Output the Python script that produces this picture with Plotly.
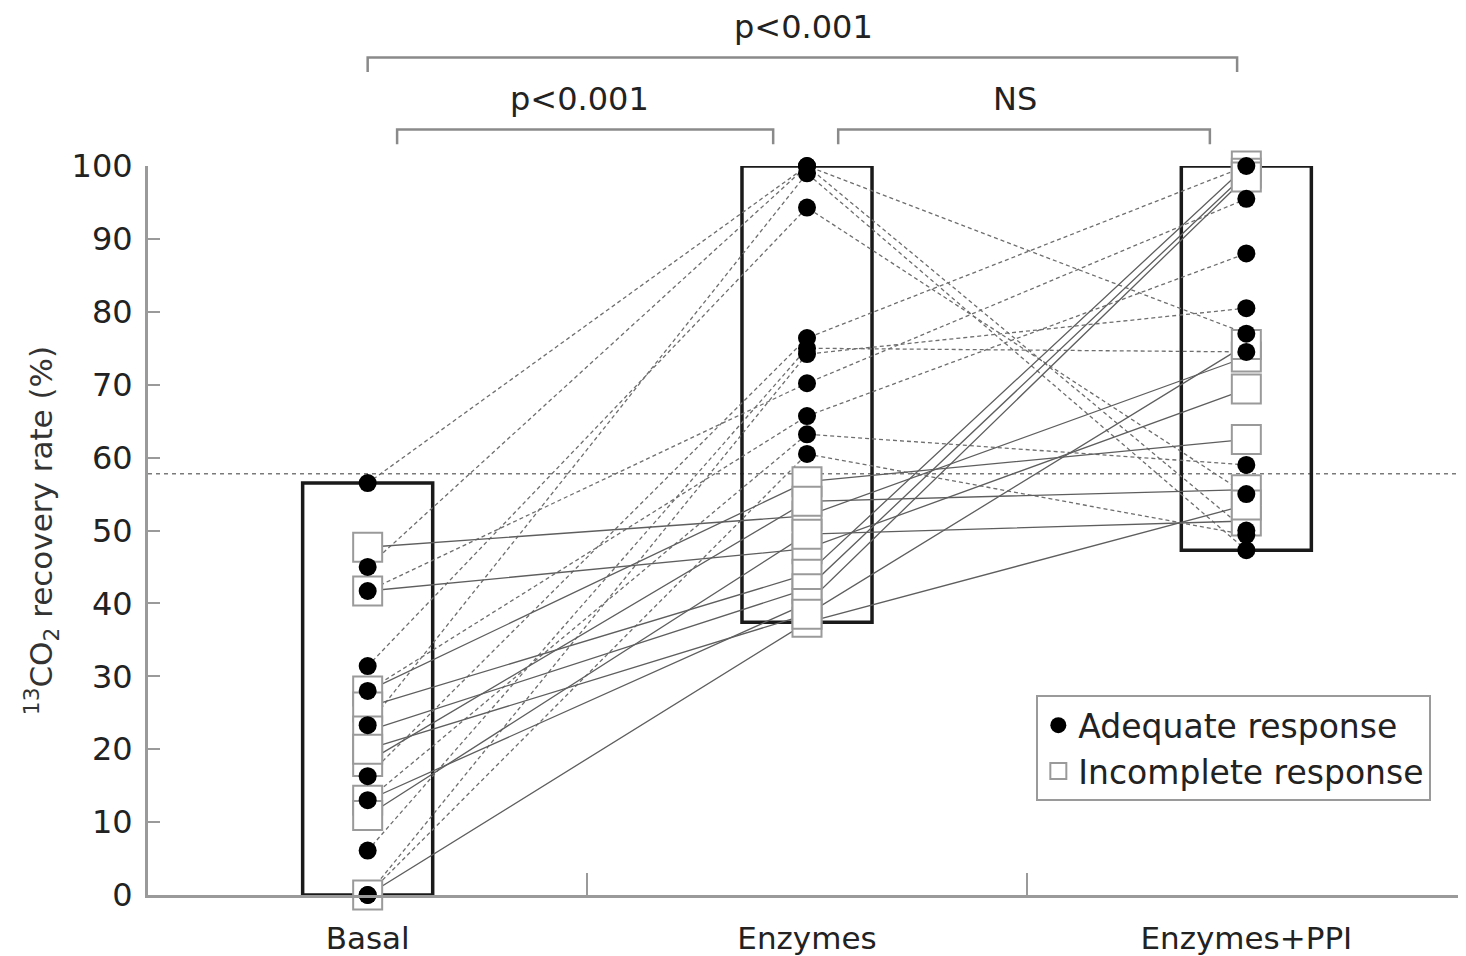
import plotly.graph_objects as go

# ---------------- data ----------------
groups = ["Basal", "Enzymes", "Enzymes+PPI"]
group_pos = [1, 2, 3]

# Patients with adequate response (dots, dashed lines)
adequate_basal = [56.5, 45.0, 23.3, 31.4, 16.3, 6.1, 0.0, 41.7, 28.0, 13.0, 0.0]
adequate_enz = [100.0, 100.0, 99.0, 94.3, 76.4, 75.0, 74.2, 70.2, 65.7, 63.2, 60.5]
adequate_ppi = [77.0, 50.0, 47.3, 55.0, 100.0, 74.5, 80.5, 95.5, 88.0, 59.0, 49.4]

# Patients with incomplete response (squares, solid lines)
incomplete_basal = [47.7, 41.7, 28.0, 25.8, 22.5, 18.3, 13.0, 10.9, 0.0, 20.0]
incomplete_enz = [52.0, 47.5, 56.7, 44.0, 42.0, 54.0, 40.0, 49.5, 37.4, 38.5]
incomplete_ppi = [73.8, 69.4, 62.5, 100.0, 99.0, 55.6, 98.5, 51.3, 53.5, 75.5]

cutoff = 57.8
y_ticks = list(range(0, 101, 10))
legend_names = ["Adequate response", "Incomplete response"]

# significance brackets: (from x, to x, bracket y, text x, text y, label)
brackets = [
    (1.000, 2.979, 114.9, 1.991, 119.0, "p&lt;0.001"),
    (1.067, 1.923, 105.0, 1.483, 109.2, "p&lt;0.001"),
    (2.071, 2.917, 105.0, 2.474, 109.2, "NS"),
]

FONT = "DejaVu Sans"
XR = [0.5, 3.5]
YR = [0, 100]


def px(x):
    return (x - XR[0]) / (XR[1] - XR[0])


def py(v):
    return (v - YR[0]) / (YR[1] - YR[0])


def path_xy(b, e, p):
    xs, ys = [], []
    for vals in zip(b, e, p):
        xs += group_pos + [None]
        ys += list(vals) + [None]
    return xs, ys


fig = go.Figure()

# connecting lines
xa, ya = path_xy(adequate_basal, adequate_enz, adequate_ppi)
fig.add_trace(go.Scatter(x=xa, y=ya, mode="lines", showlegend=False,
                         line=dict(color="#6e6e6e", width=1.3, dash="4px,3px"),
                         cliponaxis=False, hoverinfo="skip"))
xi, yi = path_xy(incomplete_basal, incomplete_enz, incomplete_ppi)
fig.add_trace(go.Scatter(x=xi, y=yi, mode="lines", showlegend=False,
                         line=dict(color="#5e5e5e", width=1.3),
                         cliponaxis=False, hoverinfo="skip"))

# markers
sq_x, sq_y = [], []
for g, vals in zip(group_pos, [incomplete_basal, incomplete_enz, incomplete_ppi]):
    sq_x += [g] * len(vals)
    sq_y += vals
fig.add_trace(go.Scatter(x=sq_x, y=sq_y, mode="markers", name=legend_names[1],
                         legendrank=2, cliponaxis=False,
                         marker=dict(symbol="square", size=29, color="white",
                                     line=dict(color="#9a9a9a", width=2))))
dot_x, dot_y = [], []
for g, vals in zip(group_pos, [adequate_basal, adequate_enz, adequate_ppi]):
    dot_x += [g] * len(vals)
    dot_y += vals
fig.add_trace(go.Scatter(x=dot_x, y=dot_y, mode="markers", name=legend_names[0],
                         legendrank=1, cliponaxis=False,
                         marker=dict(symbol="circle", size=18, color="black",
                                     line=dict(width=0))))

shapes = []
# range boxes for each group
for g, a, b in zip(group_pos,
                   [adequate_basal, adequate_enz, adequate_ppi],
                   [incomplete_basal, incomplete_enz, incomplete_ppi]):
    vals = a + b
    shapes.append(dict(type="rect", xref="x", yref="y", x0=g - 0.148, x1=g + 0.148,
                       y0=min(vals), y1=max(vals), layer="below",
                       line=dict(color="#1a1a1a", width=3.5)))
# cutoff line
shapes.append(dict(type="line", xref="paper", yref="y", x0=0, x1=1, y0=cutoff, y1=cutoff,
                   line=dict(color="#7a7a7a", width=1.5, dash="4px,4px"), layer="below"))

annotations = []
for x0, x1, yb, tx, ty, label in brackets:
    shapes.append(dict(type="path", xref="paper", yref="paper",
                       path=f"M {px(x0)} {py(yb - 2.0)} L {px(x0)} {py(yb)} L {px(x1)} {py(yb)} L {px(x1)} {py(yb - 2.0)}",
                       line=dict(color="#8a8a8a", width=2.5)))
    annotations.append(dict(x=px(tx), y=py(ty), xref="paper", yref="paper", text=label,
                            xanchor="center", yanchor="middle",
                            showarrow=False, font=dict(family=FONT, size=32, color="#222")))

fig.update_layout(
    width=1458, height=948,
    margin=dict(l=140, r=0, t=158, b=61),
    plot_bgcolor="white", paper_bgcolor="white",
    font=dict(family=FONT, size=30, color="#222"),
    shapes=shapes, annotations=annotations,
    showlegend=True,
    legend=dict(x=px(2.522), y=py(27.4), xanchor="left", yanchor="top",
                bordercolor="#9a9a9a", borderwidth=2, bgcolor="white",
                font=dict(family=FONT, size=33, color="#222"),
                itemsizing="trace", tracegroupgap=0),
    xaxis=dict(range=XR, tickvals=group_pos, ticktext=groups, ticks="",
               showline=True, linecolor="#9a9a9a", linewidth=3,
               showgrid=False, zeroline=False, ticklabelstandoff=14,
               tickfont=dict(family=FONT, size=31, color="#222"),
               minor=dict(tickvals=[1.5, 2.5], ticks="inside", ticklen=22,
                          tickwidth=2, tickcolor="#9a9a9a")),
    yaxis=dict(range=YR, tickvals=y_ticks, ticks="inside", ticklen=12, tickwidth=2,
               tickcolor="#9a9a9a", showline=True, linecolor="#9a9a9a", linewidth=3,
               showgrid=False, zeroline=False, ticklabelstandoff=6,
               tickfont=dict(family=FONT, size=32, color="#222"),
               title=dict(text="<sup>13</sup>CO<sub>2</sub> recovery rate (%)",
                          font=dict(family=FONT, size=31, color="#333"), standoff=10)),
)

fig.write_html("out.html")
